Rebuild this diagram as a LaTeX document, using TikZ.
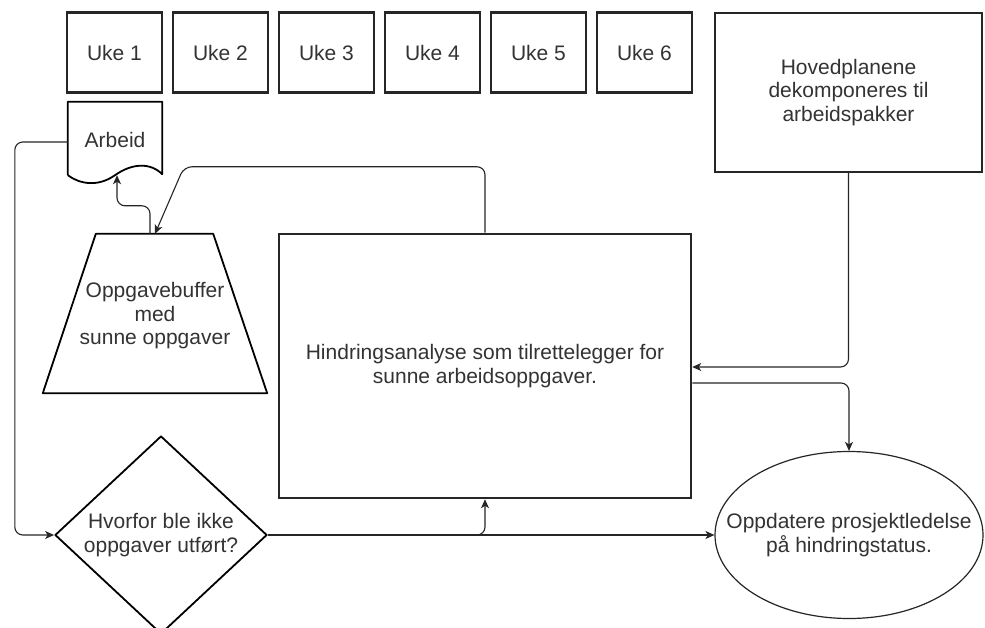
\documentclass[tikz,border=0pt]{standalone}
\usepackage{fontspec}
\setmainfont{Liberation Sans}
\usetikzlibrary{shapes.geometric, arrows.meta, positioning}

\begin{document}
\begin{tikzpicture}[
    x=1pt, y=-1pt,
    every node/.style={font=\fontsize{21}{23.5}\selectfont, text=black!80, align=center},
    box/.style={rectangle, draw=black!85, line width=2.5pt, inner sep=2pt},
    weekbox/.style={box, minimum width=95pt, minimum height=80pt, outer sep=0pt},
    outline/.style={draw=black, line width=1.8pt, line join=round},
    arrow/.style={-{Stealth[length=9pt, width=8pt, inset=2.5pt]}, line width=1.1pt, black!85, rounded corners=8pt}
]
\clip (0,0) rectangle (985,628);
\fill[white] (0,0) rectangle (985,628);

% Weeks
\node[weekbox] (uke1) at (114.5,52.5) {Uke 1};
\node[weekbox, right=11pt of uke1] (uke2) {Uke 2};
\node[weekbox, right=11pt of uke2] (uke3) {Uke 3};
\node[weekbox, right=11pt of uke3] (uke4) {Uke 4};
\node[weekbox, right=11pt of uke4] (uke5) {Uke 5};
\node[weekbox, right=11pt of uke5] (uke6) {Uke 6};

% Main boxes
\node[box, minimum width=267pt, minimum height=159pt] (plan) at (848.5,92.5) {Hovedplanene\\dekomponeres til\\arbeidspakker};
\node[box, minimum width=412pt, minimum height=264pt] (analyse) at (485,366) {Hindringsanalyse som tilrettelegger for\\sunne arbeidsoppgaver.};
\node[diamond, outline, minimum width=212pt, minimum height=198pt, inner sep=0pt] (why) at (161,535) {Hvorfor ble ikke\\oppgaver utført?};
\node[ellipse, draw=black!85, line width=1.2pt, minimum width=268pt, minimum height=167pt, inner sep=0pt, inner xsep=-45pt] (update) at (849,535) {Oppdatere prosjektledelse\\på hindringstatus.};

% Document and buffer
\node[minimum width=94pt, minimum height=76pt, inner sep=0pt] (arbeid) at (115,140) {Arbeid};
\draw[outline] ([yshift=3pt]arbeid.south west) -- (arbeid.north west) -- (arbeid.north east) -- ([yshift=4pt]arbeid.south east)
    .. controls +(-12,-12) and +(17,-12) .. ([yshift=3pt]arbeid.south)
    .. controls +(-17,12) and +(12,9) .. ([yshift=3pt]arbeid.south west);
\node[minimum width=224pt, minimum height=159pt, inner sep=0pt, text depth=-3pt] (buffer) at (155,313.5) {Oppgavebuffer\\med\\sunne oppgaver};
\draw[outline] (buffer.south west) -- (buffer.south east) -- ([xshift=-54pt]buffer.north east) -- ([xshift=53pt]buffer.north west) -- cycle;

% Arrows
\draw[arrow] ([yshift=-2pt]arbeid.west) -- ++(-53,0) |- (why.west);
\draw[arrow] ([xshift=-5pt]buffer.north) -- ++(0,-28) -| ([xshift=2pt, yshift=3pt]arbeid.south);
\draw[arrow] (analyse.north) -- ++(0,-66) -- ++(-301,0) -- (buffer.north);
\draw[arrow] (plan.south) |- ([yshift=-1pt]analyse.east);
\draw[arrow] ([yshift=-17pt]analyse.east) -| (update.north);
\draw[arrow] (why.east) -- (update.west);
\draw[arrow] (why.east) -| (analyse.south);
\end{tikzpicture}
\end{document}
